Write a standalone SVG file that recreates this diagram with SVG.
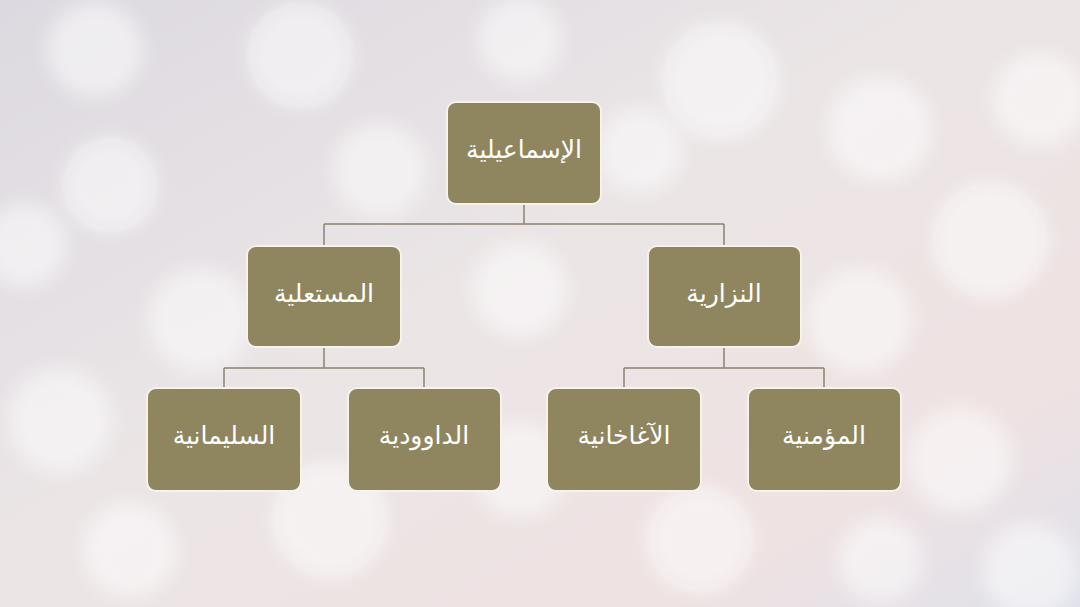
<svg xmlns="http://www.w3.org/2000/svg" width="1080" height="607" viewBox="0 0 1080 607">
  <defs>
    <linearGradient id="bg" x1="0" y1="0" x2="1" y2="1">
      <stop offset="0" stop-color="#dcd9e0"/>
      <stop offset="0.45" stop-color="#ebe5e6"/>
      <stop offset="0.8" stop-color="#efe2e2"/>
      <stop offset="1" stop-color="#dfe1ea"/>
    </linearGradient>
    <filter id="blur" x="-20%" y="-20%" width="140%" height="140%">
      <feGaussianBlur stdDeviation="9"/>
    </filter>
    <filter id="blur2" x="-20%" y="-20%" width="140%" height="140%">
      <feGaussianBlur stdDeviation="2.5"/>
    </filter>
  </defs>
  <style>
    .node rect { fill: #8f8660; stroke: #f7f3ea; stroke-width: 2; }
    .node text { fill: #ffffff; font-family: "DejaVu Sans", "Liberation Sans", sans-serif; font-size: 25px; text-anchor: middle; direction: rtl; }
    .conn { stroke: #8a8371; stroke-width: 1.5; fill: none; }
    .bk { fill: #ffffff; }
  </style>
  <rect width="1080" height="607" fill="url(#bg)"/>
  <g id="bokeh">
    <g filter="url(#blur)" opacity="0.5">
      <circle class="bk" cx="95" cy="50" r="48"/>
      <circle class="bk" cx="300" cy="55" r="52"/>
      <circle class="bk" cx="520" cy="40" r="42"/>
      <circle class="bk" cx="720" cy="80" r="57"/>
      <circle class="bk" cx="880" cy="130" r="52"/>
      <circle class="bk" cx="1040" cy="100" r="47"/>
      <circle class="bk" cx="110" cy="185" r="47"/>
      <circle class="bk" cx="380" cy="170" r="47"/>
      <circle class="bk" cx="640" cy="150" r="42"/>
      <circle class="bk" cx="990" cy="240" r="57"/>
      <circle class="bk" cx="25" cy="245" r="42"/>
      <circle class="bk" cx="200" cy="320" r="52"/>
      <circle class="bk" cx="520" cy="290" r="47"/>
      <circle class="bk" cx="860" cy="320" r="52"/>
      <circle class="bk" cx="60" cy="420" r="52"/>
      <circle class="bk" cx="330" cy="520" r="57"/>
      <circle class="bk" cx="520" cy="470" r="47"/>
      <circle class="bk" cx="700" cy="540" r="52"/>
      <circle class="bk" cx="960" cy="460" r="52"/>
      <circle class="bk" cx="130" cy="550" r="47"/>
      <circle class="bk" cx="1030" cy="570" r="47"/>
      <circle class="bk" cx="880" cy="560" r="42"/>
    </g>
    <g filter="url(#blur2)" opacity="0.25" fill="none" stroke="#ffffff" stroke-width="3">
      <circle cx="300" cy="55" r="50"/>
      <circle cx="720" cy="80" r="55"/>
      <circle cx="110" cy="185" r="45"/>
      <circle cx="990" cy="240" r="55"/>
      <circle cx="330" cy="520" r="55"/>
      <circle cx="700" cy="540" r="50"/>
    </g>
  </g>
  <g id="connectors">
    <path class="conn" d="M524 204 V224 M324 224 H724 M324 224 V246 M724 224 V246"/>
    <path class="conn" d="M324 347 V368 M224 368 H424 M224 368 V388 M424 368 V388"/>
    <path class="conn" d="M724 347 V368 M624 368 H824 M624 368 V388 M824 368 V388"/>
  </g>
  <g id="n-ismailiyya" class="node">
    <rect x="447" y="102" width="154" height="102" rx="9"/>
    <text x="524" y="158">الإسماعيلية</text>
  </g>
  <g id="n-mustaliyya" class="node">
    <rect x="247" y="246" width="154" height="101" rx="9"/>
    <text x="324" y="302">المستعلية</text>
  </g>
  <g id="n-nizariyya" class="node">
    <rect x="648" y="246" width="153" height="101" rx="9"/>
    <text x="724" y="302">النزارية</text>
  </g>
  <g id="n-sulaymaniyya" class="node">
    <rect x="147" y="388" width="154" height="103" rx="9"/>
    <text x="224" y="444">السليمانية</text>
  </g>
  <g id="n-dawoodiyya" class="node">
    <rect x="348" y="388" width="153" height="103" rx="9"/>
    <text x="424" y="444">الداوودية</text>
  </g>
  <g id="n-aghakhaniyya" class="node">
    <rect x="547" y="388" width="154" height="103" rx="9"/>
    <text x="624" y="444">الآغاخانية</text>
  </g>
  <g id="n-muminiyya" class="node">
    <rect x="748" y="388" width="153" height="103" rx="9"/>
    <text x="824" y="444">المؤمنية</text>
  </g>
</svg>
